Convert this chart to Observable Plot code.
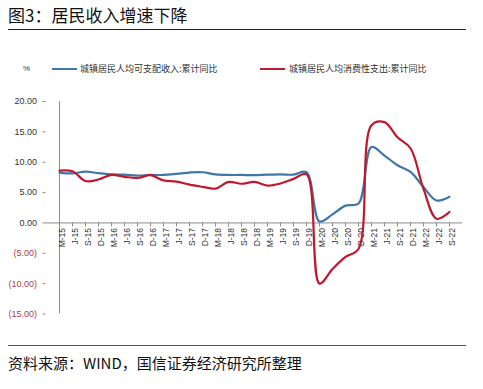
<!DOCTYPE html>
<html><head><meta charset="utf-8">
<script src="https://cdn.jsdelivr.net/npm/d3@7"></script>
<script src="https://cdn.jsdelivr.net/npm/@observablehq/plot@0.6"></script>
<style>
body{margin:0;background:#fff;}
#wrap{position:relative;width:483px;height:389px;overflow:hidden;background:#fff;font-family:"Liberation Sans",Arial,sans-serif;}
#title{position:absolute;left:8px;top:3px;font-family:"Noto Sans CJK SC";font-size:17px;line-height:24px;color:#111;white-space:nowrap;}
.rule{position:absolute;left:8px;width:458px;height:0;}
#rule1{top:29px;border-top:1px solid #222;}
#rule2{top:345px;border-top:1px solid #555;}
#legend{position:absolute;left:0;top:62px;width:483px;height:14px;font-family:"Noto Sans CJK SC";font-size:9px;color:#333;}
#legend span{position:absolute;top:0;line-height:14px;white-space:nowrap;}
#legend i{position:absolute;top:6px;height:2.4px;width:25px;}
#chart{position:absolute;left:0;top:80px;}
#source{position:absolute;left:8px;top:352px;font-family:"Noto Sans CJK SC";font-size:15px;line-height:22px;color:#111;white-space:nowrap;}
</style>
</head>
<body>
<div id="wrap">
  <div id="title">图3：居民收入增速下降</div>
  <div class="rule" id="rule1"></div>
  <div id="legend"></div>
  <div id="chart"></div>
  <div class="rule" id="rule2"></div>
  <div id="source">资料来源：WIND，国信证券经济研究所整理</div>
</div>
<script>
const quarters = ["M-15","J-15","S-15","D-15","M-16","J-16","S-16","D-16","M-17","J-17","S-17","D-17","M-18","J-18","S-18","D-18","M-19","J-19","S-19","D-19","M-20","J-20","S-20","D-20","M-21","J-21","S-21","D-21","M-22","J-22","S-22"];
const income = [8.3,8.15,8.45,8.2,8.0,7.95,7.8,7.9,7.9,8.08,8.3,8.35,8.0,7.9,7.9,7.86,7.95,8.0,7.95,8.35,0.25,1.4,2.85,3.2,12.5,11.1,9.5,8.4,5.9,3.7,4.3];
const consumption = [8.6,8.5,6.9,7.15,7.9,7.6,7.4,7.86,7.0,6.8,6.3,5.95,5.65,6.75,6.45,6.75,6.15,6.5,7.25,8.0,-10.0,-7.6,-5.6,-4.3,16.1,16.6,14.1,12.3,5.6,0.7,1.8];
const seriesNames = ["城镇居民人均可支配收入:累计同比","城镇居民人均消费性支出:累计同比"];
const seriesColors = ["#3f77a8","#c0192e"];
const unitLabel = "%";
const yTicks = [-15,-10,-5,0,5,10,15,20];

// legend
const legend = document.getElementById("legend");
legend.innerHTML = `<span style="left:23px;font-family:'Liberation Sans';font-size:8px">${unitLabel}</span>` +
  `<i style="left:52px;background:${seriesColors[0]}"></i><span style="left:80px">${seriesNames[0]}</span>` +
  `<i style="left:260px;background:${seriesColors[1]}"></i><span style="left:289px">${seriesNames[1]}</span>`;

const rows = quarters.flatMap((q, i) => [
  {q, v: income[i], s: seriesNames[0]},
  {q, v: consumption[i], s: seriesNames[1]}
]);

const W = 483, H = 260, mt = 21, mb = 26.5;
const yMin = yTicks[0], yMax = yTicks[yTicks.length - 1];
const innerH = H - mt - mb;
const dyAxis = -innerH * (0 - yMin) / (yMax - yMin);
const fmt = d => d < 0 ? `(${Math.abs(d).toFixed(2)})` : d.toFixed(2);
const axisColor = "#8c8c8c";

const chart = Plot.plot({
  width: W, height: H,
  marginLeft: 45.5, marginRight: 21, marginTop: mt, marginBottom: mb,
  style: {background: "white", fontFamily: "'Liberation Sans', Arial, sans-serif", overflow: "visible"},
  x: {type: "point", domain: quarters, padding: 0, axis: null},
  y: {domain: [yMin, yMax], axis: null},
  color: {domain: seriesNames, range: seriesColors},
  marks: [
    Plot.ruleX([quarters[0]], {y1: yMin, y2: yMax, stroke: axisColor}),
    Plot.axisY({ticks: yTicks.filter(d => d >= 0), label: null, tickSize: 3, tickPadding: 6, stroke: axisColor, fill: "#333", fontSize: 9, tickFormat: fmt}),
    Plot.axisY({ticks: yTicks.filter(d => d < 0), label: null, tickSize: 3, tickPadding: 6, stroke: axisColor, fill: "#a8404c", fontSize: 9, tickFormat: fmt}),
    Plot.ruleY([0], {stroke: axisColor}),
    Plot.axisX({ticks: quarters, label: null, tickSize: 4, tickFormat: () => "", dy: dyAxis, stroke: axisColor}),
    Plot.axisX({ticks: quarters, label: null, tickSize: 0, tickPadding: 5, tickRotate: -90, dy: dyAxis, dx: 3, fontSize: 8.5, fill: "#333"}),
    Plot.line(rows, {x: "q", y: "v", z: "s", stroke: "s", curve: "catmull-rom", strokeWidth: 2.2})
  ]
});
document.getElementById("chart").appendChild(chart);
</script>
</body></html>
